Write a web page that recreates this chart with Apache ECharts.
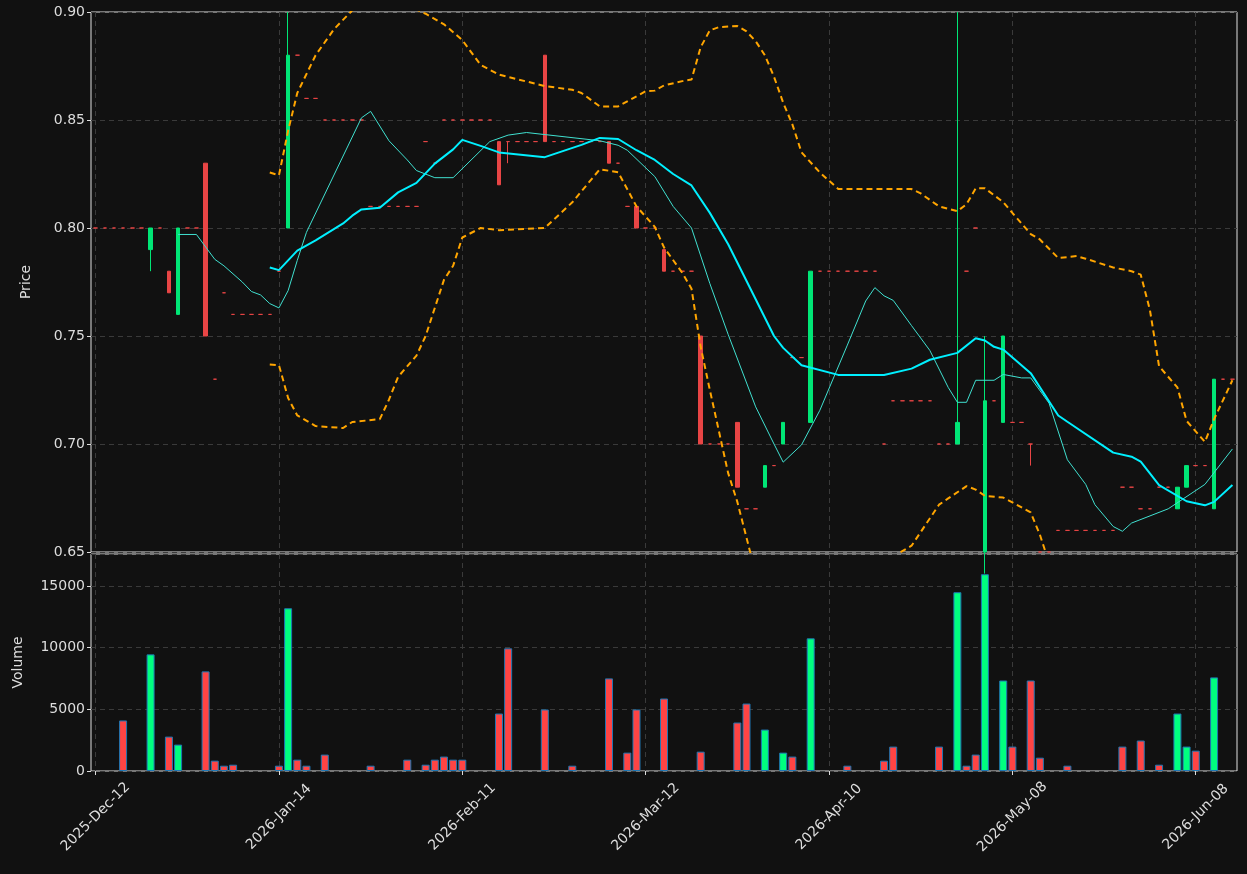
<!DOCTYPE html>
<html style="height: 100%">
<head>
<meta charset="utf-8">
<script src="https://cdn.jsdelivr.net/npm/echarts@6/dist/echarts.min.js"></script>
</head>
<body style="height: 100%; margin: 0; background: #111111">
<div id="container" style="width: 1247px; height: 874px"></div>
<script type="text/javascript">
// tick labels, every 20th bar
var tickLabels = {0: '2025-Dec-12', 20: '2026-Jan-14', 40: '2026-Feb-11', 60: '2026-Mar-12',
                  80: '2026-Apr-10', 100: '2026-May-08', 120: '2026-Jun-08'};
var BAR_COUNT = 125;

// one entry per bar: a number = flat day (o=c=l=h), or [open, close, low, high]
var bars = [
    0.80, 0.80, 0.80, 0.80, 0.80, 0.80, [0.79, 0.80, 0.78, 0.80], 0.80, [0.78, 0.77, 0.77, 0.78], [0.76, 0.80, 0.76, 0.80],
    0.80, 0.80, [0.83, 0.75, 0.75, 0.83], 0.73, 0.77, 0.76, 0.76, 0.76, 0.76, 0.76,
    0.78, [0.80, 0.88, 0.80, 0.90], 0.88, 0.86, 0.86, 0.85, 0.85, 0.85, 0.85, 0.85,
    0.81, 0.81, 0.81, 0.81, 0.81, 0.81, 0.84, 0.83, 0.85, 0.85,
    0.85, 0.85, 0.85, 0.85, [0.84, 0.82, 0.82, 0.84], [0.84, 0.84, 0.83, 0.84], 0.84, 0.84, 0.84, [0.88, 0.84, 0.84, 0.88],
    0.84, 0.84, 0.84, 0.84, 0.84, 0.84, [0.84, 0.83, 0.83, 0.84], 0.83, 0.81, [0.81, 0.80, 0.80, 0.81],
    0.80, 0.80, [0.79, 0.78, 0.78, 0.79], 0.78, 0.78, 0.78, [0.75, 0.70, 0.70, 0.75], 0.70, 0.70, 0.70,
    [0.71, 0.68, 0.68, 0.71], 0.67, 0.67, [0.68, 0.69, 0.68, 0.69], 0.69, [0.70, 0.71, 0.70, 0.71], 0.74, 0.74, [0.71, 0.78, 0.71, 0.78], 0.78,
    0.78, 0.78, 0.78, 0.78, 0.78, 0.78, 0.70, 0.72, 0.72, 0.72,
    0.72, 0.72, 0.70, 0.70, [0.70, 0.71, 0.70, 0.90], 0.78, 0.80, [0.65, 0.72, 0.64, 0.75], 0.72, [0.71, 0.75, 0.71, 0.75],
    0.71, 0.71, [0.70, 0.70, 0.69, 0.70], 0.65, 0.65, 0.66, 0.66, 0.66, 0.66, 0.66,
    0.66, 0.66, 0.68, 0.68, 0.67, 0.67, 0.68, 0.68, [0.67, 0.68, 0.67, 0.68], [0.68, 0.69, 0.68, 0.69],
    0.69, 0.69, [0.67, 0.73, 0.67, 0.73], 0.73, 0.73
];

// [bar index, volume]
var volumes = [
    [3, 4100], [6, 9460], [8, 2790], [9, 2140], [12, 8080], [13, 840], [14, 430], [15, 510],
    [20, 430], [21, 13200], [22, 920], [23, 430], [25, 1330], [30, 430], [34, 920], [36, 510],
    [37, 920], [38, 1170], [39, 920], [40, 920], [44, 4660], [45, 9950], [49, 4990], [52, 430],
    [56, 7510], [58, 1490], [59, 4990], [62, 5880], [66, 1570], [70, 3930], [71, 5470], [73, 3360],
    [75, 1490], [76, 1170], [78, 10760], [82, 430], [86, 840], [87, 1980], [92, 1980], [94, 14500],
    [95, 430], [96, 1330], [97, 15960], [99, 7340], [100, 1980], [102, 7340], [103, 1080], [106, 430],
    [112, 1980], [114, 2470], [116, 510], [118, 4660], [119, 1980], [120, 1650], [122, 7590]
];

// moving averages and bands, [bar index, value]
var maShort = [
    [9, .797], [11, .797], [13, .7855], [14, .7825], [16, .775], [17, .7706], [18, .769], [19, .765], [20, .763],
    [21, .771], [22, .785], [23, .798], [29, .851], [30, .854], [32, .8404], [34, .8315], [35, .8266], [37, .8233],
    [39, .8233], [43, .840], [45, .843], [47, .8442], [55, .8404], [57, .8383], [58, .836], [61, .8238], [63, .810],
    [65, .800], [67, .7743], [69, .7507], [72, .7172], [74, .70], [75, .6916], [77, .6996], [79, .7156], [82, .7458],
    [84, .7662], [85, .7724], [86, .7686], [87, .7665], [89, .7548], [91, .7433], [93, .7262], [94, .7193], [95, .7193],
    [96, .7295], [98, .7295], [99, .7322], [101, .7306], [102, .7306], [104, .7189], [106, .6927], [108, .6813],
    [109, .6719], [111, .6618], [112, .6596], [113, .6634], [117, .670], [121, .6813], [124, .6977]
];
var maLong = [
    [19, .7817], [20, .7805], [22, .7895], [24, .7943], [27, .8021], [28, .8057], [29, .8086], [31, .8094], [33, .8165],
    [35, .8209], [37, .8298], [39, .8364], [40, .8408], [42, .838], [44, .835], [49, .8328], [53, .8385], [55, .8417],
    [57, .8412], [59, .836], [61, .8315], [63, .825], [65, .8197], [67, .807], [69, .7925], [72, .767], [74, .750],
    [75, .7445], [77, .7365], [81, .732], [86, .7319], [89, .7349], [91, .739], [94, .7422], [96, .749], [97, .7479],
    [98, .745], [99, .7437], [102, .7328], [105, .7132], [106, .7103], [111, .696], [113, .6941], [114, .6918],
    [116, .681], [119, .6735], [121, .6716], [122, .6732], [124, .681]
];
var bandUpper = [
    [19, .8257], [20, .8244], [21, .845], [22, .8625], [24, .880], [26, .892], [28, .9008], [30, .905], [33, .905],
    [36, .8992], [38, .8943], [40, .887], [42, .8755], [44, .871], [49, .8657], [52, .864], [53, .8625], [55, .8563],
    [57, .8563], [60, .8633], [61, .8636], [62, .866], [64, .868], [65, .8687], [66, .8837], [67, .8915], [68, .893],
    [70, .8935], [71, .891], [72, .8865], [73, .880], [74, .870], [75, .858], [76, .848], [77, .835], [79, .8257],
    [81, .8181], [89, .818], [90, .816], [92, .810], [94, .8078], [95, .811], [96, .8184], [97, .8184], [99, .812],
    [100, .807], [102, .7972], [103, .7947], [105, .7861], [107, .787], [108, .7858], [111, .7817], [113, .780],
    [114, .7784], [115, .7621], [116, .736], [118, .7262], [119, .7107], [121, .701], [122, .7115], [124, .7295]
];
var bandLower = [
    [19, .7368], [20, .7365], [21, .7213], [22, .7132], [24, .7083], [27, .7074], [28, .7102], [31, .7115], [32, .7205],
    [33, .7311], [35, .7409], [36, .750], [38, .776], [39, .7825], [40, .7956], [42, .80], [44, .799], [49, .80],
    [52, .8119], [55, .8272], [57, .8258], [59, .810], [61, .8005], [62, .791], [64, .7792], [65, .7719], [66, .745],
    [67, .725], [69, .6865], [70, .6732], [72, .640], [75, .615], [80, .605], [84, .625], [87, .648], [89, .6529],
    [92, .6719], [93, .6748], [95, .6805], [96, .6789], [97, .676], [99, .6752], [100, .673], [102, .6683],
    [103, .658], [104, .645], [108, .625], [116, .62], [124, .62]
];

var UP = '#00e676', DOWN = '#e84545';
var categories = [];
for (var i = 0; i < BAR_COUNT; i++) categories.push(String(i));

var ohlc = bars.map(function (b) {
    var v = typeof b === 'number' ? [b, b, b, b] : b;
    // days with no rise are drawn in the down colour
    if (v[1] <= v[0]) {
        return {value: v, itemStyle: {color: DOWN, color0: DOWN, borderColor: DOWN, borderColor0: DOWN}};
    }
    return {value: v};
});
var volData = volumes.map(function (v) {
    var k = typeof bars[v[0]] === 'number' ? [0, 0] : bars[v[0]];
    return {value: v, itemStyle: {color: k[1] > k[0] ? '#00ff7f' : '#ff4444'}};
});

var labelColor = '#dddddd';
var FONT = 'DejaVu Sans';
var gridLine = {show: true, lineStyle: {color: '#3a3a3a', type: [5, 4], width: 1}};
var tickFn = function (idx) { return idx % 20 === 0; };

function xAxisFor(gridIndex, showLabels) {
    return {
        type: 'category',
        gridIndex: gridIndex,
        data: categories,
        boundaryGap: true,
        axisLine: {show: false},
        axisTick: {show: showLabels, interval: tickFn, alignWithLabel: true, length: 4, lineStyle: {color: labelColor}},
        axisLabel: {
            show: showLabels, interval: tickFn, rotate: 45, color: labelColor, fontSize: 14,
            fontFamily: FONT, margin: 46, align: 'center', verticalAlign: 'middle',
            formatter: function (v) { return tickLabels[v] || ''; }
        },
        splitLine: {show: true, interval: tickFn, alignWithLabel: true, lineStyle: gridLine.lineStyle}
    };
}

var dom = document.getElementById('container');
var myChart = echarts.init(dom);
var option = {
    backgroundColor: '#111111',
    animation: false,
    grid: [
        {left: 91, right: 10, top: 12, height: 540, show: true, borderColor: '#e0e0e0', borderWidth: 1, backgroundColor: '#111111'},
        {left: 91, right: 10, top: 554, height: 217, show: true, borderColor: '#e0e0e0', borderWidth: 1, backgroundColor: '#111111'}
    ],
    xAxis: [xAxisFor(0, false), xAxisFor(1, true)],
    yAxis: [
        {
            type: 'value', gridIndex: 0, min: 0.65, max: 0.90, interval: 0.05,
            name: 'Price', nameLocation: 'middle', nameGap: 58,
            nameTextStyle: {color: labelColor, fontSize: 14, fontFamily: FONT},
            axisLine: {show: false},
            axisTick: {show: true, length: 4, lineStyle: {color: labelColor}},
            axisLabel: {color: labelColor, fontSize: 14, fontFamily: FONT, margin: 6,
                        formatter: function (v) { return v.toFixed(2); }},
            splitLine: gridLine
        },
        {
            type: 'value', gridIndex: 1, min: 0, max: 17600, interval: 5000,
            name: 'Volume', nameLocation: 'middle', nameGap: 66,
            nameTextStyle: {color: labelColor, fontSize: 14, fontFamily: FONT},
            axisLine: {show: false},
            axisTick: {show: true, length: 4, lineStyle: {color: labelColor}},
            axisLabel: {color: labelColor, fontSize: 14, fontFamily: FONT, margin: 6, showMaxLabel: false,
                        formatter: function (v) { return String(v); }},
            splitLine: gridLine
        }
    ],
    series: [
        {
            type: 'candlestick', xAxisIndex: 0, yAxisIndex: 0, barWidth: 4,
            itemStyle: {color: UP, color0: DOWN, borderColor: UP, borderColor0: DOWN, borderWidth: 1},
            data: ohlc
        },
        {
            type: 'line', xAxisIndex: 0, yAxisIndex: 0, data: bandUpper, symbol: 'none', clip: true,
            lineStyle: {color: '#ffa500', width: 2, type: [6, 4]}
        },
        {
            type: 'line', xAxisIndex: 0, yAxisIndex: 0, data: bandLower, symbol: 'none', clip: true,
            lineStyle: {color: '#ffa500', width: 2, type: [6, 4]}
        },
        {
            type: 'line', xAxisIndex: 0, yAxisIndex: 0, data: maShort, symbol: 'none', clip: true,
            lineStyle: {color: '#40e0d0', width: 1}
        },
        {
            type: 'line', xAxisIndex: 0, yAxisIndex: 0, data: maLong, symbol: 'none', clip: true,
            lineStyle: {color: '#00f0ff', width: 2}
        },
        {
            type: 'bar', xAxisIndex: 1, yAxisIndex: 1, barWidth: 8,
            itemStyle: {borderColor: '#1f77b4', borderWidth: 1},
            data: volData
        }
    ]
};
myChart.setOption(option);
</script>
</body>
</html>
